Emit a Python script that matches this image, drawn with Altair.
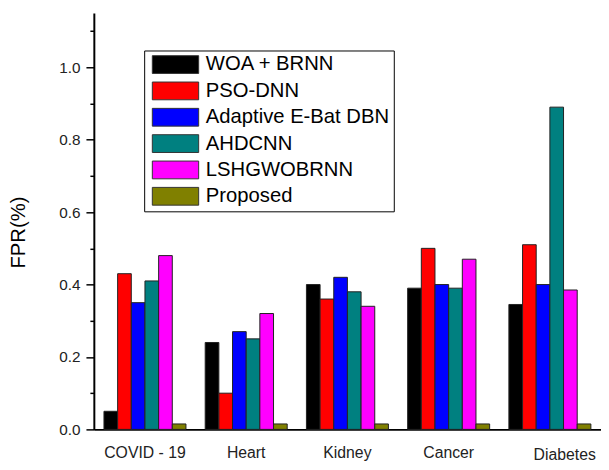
import altair as alt
import pandas as pd

categories = ["COVID - 19", "Heart", "Kidney", "Cancer", "Diabetes"]
methods = ["WOA + BRNN", "PSO-DNN", "Adaptive E-Bat DBN", "AHDCNN", "LSHGWOBRNN", "Proposed"]
colors = ["#000000", "#FF0000", "#0000FF", "#008080", "#FF00FF", "#808000"]

woa_brnn = [0.05, 0.24, 0.40, 0.39, 0.345]
pso_dnn = [0.43, 0.10, 0.36, 0.50, 0.51]
ebat_dbn = [0.35, 0.27, 0.42, 0.40, 0.40]
ahdcnn = [0.41, 0.25, 0.38, 0.39, 0.89]
lshgwobrnn = [0.48, 0.32, 0.34, 0.47, 0.385]
proposed = [0.015, 0.015, 0.015, 0.015, 0.015]

series = [woa_brnn, pso_dnn, ebat_dbn, ahdcnn, lshgwobrnn, proposed]
rows = []
for m, vals in zip(methods, series):
    for c, v in zip(categories, vals):
        rows.append({"Category": c, "Method": m, "FPR": v})
df = pd.DataFrame(rows)

y_ticks = [round(i * 0.1, 1) for i in range(0, 12)]

chart = alt.Chart(df).mark_bar(stroke="#222222", strokeWidth=1).encode(
    x=alt.X("Category:N", sort=categories, title=None,
            scale=alt.Scale(paddingInner=0.19, paddingOuter=0.1),
            axis=alt.Axis(labelAngle=0, ticks=False, domainColor="black", domainWidth=2,
                          labelFont="Liberation Sans", labelFontSize=16, labelColor="#222222",
                          labelBaseline="top",
                          labelPadding={"condition": {"test": "datum.value == 'Diabetes'", "value": 18}, "value": 16},
                          labelOffset={"condition": {"test": "datum.value == 'Diabetes'", "value": 15}, "value": 0})),
    xOffset=alt.XOffset("Method:N", sort=methods, scale=alt.Scale(paddingInner=0, paddingOuter=0)),
    y=alt.Y("FPR:Q", title="FPR(%)",
            scale=alt.Scale(domain=[0, 1.15], nice=False, zero=True),
            axis=alt.Axis(values=y_ticks, grid=False, domainColor="black", domainWidth=2,
                          tickColor="black", tickWidth=1.5,
                          tickSize={"condition": {"test": "round(datum.value*10) % 2 == 0", "value": 8}, "value": 4},
                          labelExpr="round(datum.value*10) % 2 == 0 ? format(datum.value, '.1f') : ''",
                          labelFont="Liberation Sans", labelFontSize=15.5, labelColor="#222222", labelPadding=6,
                          titleFont="Liberation Sans", titleFontSize=20.5, titleFontWeight="normal",
                          titleColor="black", titleX=-70, titleY=222, titleAlign="center",
                          titleBaseline="alphabetic", titleAngle=270)),
    color=alt.Color("Method:N", sort=methods, title=None,
                    scale=alt.Scale(domain=methods, range=colors),
                    legend=alt.Legend(orient="none", legendX=51, legendY=38,
                                      fillColor="white", strokeColor="black", padding=4,
                                      symbolType="M-2.61,-1H2.61V1H-2.61Z", symbolSize=324,
                                      symbolOffset=17.5,
                                      symbolStrokeColor="#333333", symbolStrokeWidth=1,
                                      symbolOpacity=1, rowPadding=3.7,
                                      labelFont="Liberation Sans", labelFontSize=20.5,
                                      labelColor="black", labelOffset=20.5, labelLimit=400)),
).properties(
    width=514, height=422,
    autosize=alt.AutoSizeParams(type="none"),
    padding={"left": 87, "top": 2, "right": 0, "bottom": 32},
).configure_view(stroke=None)

chart.save("out.html", embed_options={"renderer": "svg", "actions": False})
